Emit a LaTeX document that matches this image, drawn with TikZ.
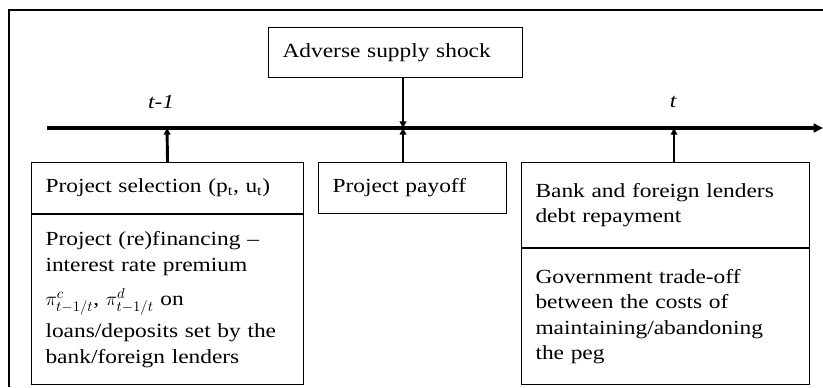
\documentclass[tikz,border=0pt]{standalone}
\usepackage{fontspec}
\setmainfont{Liberation Serif}[FakeStretch=1.17]
\usetikzlibrary{arrows.meta,positioning}

\begin{document}
\begin{tikzpicture}[x=0.75pt,y=-0.75pt,
        box/.style={draw,line width=0.8pt,inner xsep=10.5pt,inner ysep=0pt,
            align=left,anchor=north west,font=\fontsize{15}{19}\selectfont},
        lab/.style={font=\fontsize{15}{19}\selectfont\itshape},
        tip/.style={-{Triangle[length=5pt,width=5pt]}}]
    \useasboundingbox (0,0) rectangle (823,387);

    % frame
    \draw[line width=1pt] (9,387) -- (9,10) -- (823,10);

    % time line
    \coordinate (tstart) at (47,128);
    \coordinate (tend) at (823,128);
    \coordinate (tprev) at (167,128);
    \coordinate (tmid) at (403,128);
    \coordinate (tnow) at (674,128);
    \draw[line width=2.4pt,-{Triangle[length=7pt,width=6.5pt]}] (tstart) -- (tend);
    \node[lab] (lprev) at (161,102) {t-1};
    \node[lab] (lnow) at (673,102) {t};

    % boxes
    \node[box,text width=169.5pt,minimum height=37.5pt] (shock) at (268,27) {Adverse supply shock};

    \node[box,text width=183pt,minimum height=38.25pt] (sel) at (31,162)
        {Project selection (p\textsubscript{t}, u\textsubscript{t})};
    \node[box,text width=183pt,minimum height=127.5pt,below=0pt of sel] (fin)
        {Project (re)financing --\\ interest rate premium\\[7pt]
         $\pi^{c}_{t-1/t}$, $\pi^{d}_{t-1/t}$ on\\[5pt]
         loans/deposits set by the\\ bank/foreign lenders};

    \node[box,text width=120pt,minimum height=38.25pt] (pay) at (318,162) {Project payoff};

    \node[box,text width=195pt,minimum height=63.75pt] (bank) at (521,162)
        {Bank and foreign lenders\\ debt repayment\\[12pt]};
    \node[box,text width=195pt,minimum height=102pt,below=0pt of bank] (gov)
        {Government trade-off\\ between the costs of\\ maintaining/abandoning\\ the peg};

    % arrows to the time line
    \draw[line width=2.2pt,tip] (sel.north) -- (tprev);
    \draw[line width=2.2pt,tip] (shock.south -| tmid) -- (tmid);
    \draw[line width=2.2pt,tip] (pay.north -| tmid) -- (tmid);
    \draw[line width=0.8pt,tip] (bank.north -| tnow) -- (tnow);
\end{tikzpicture}
\end{document}
